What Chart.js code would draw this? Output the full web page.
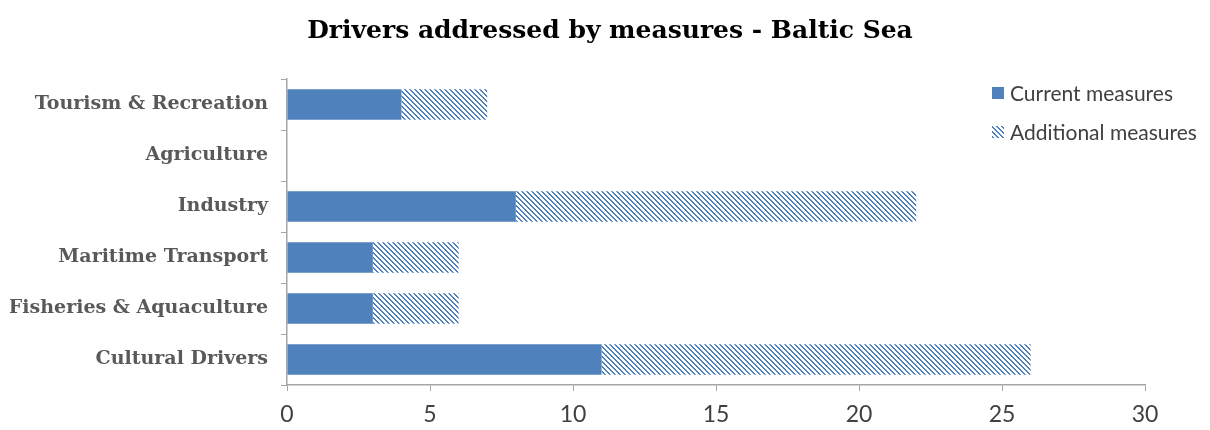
<!DOCTYPE html>
<html>
<head>
<meta charset="utf-8">
<script src="https://cdn.jsdelivr.net/npm/chart.js@4/dist/chart.umd.min.js"></script>
<style>
  html, body { margin: 0; padding: 0; background: #fff; }
  #wrap { width: 1210px; height: 430px; }
</style>
</head>
<body>
<div id="wrap"><canvas id="chart" width="1210" height="430"></canvas></div>
<script>
const categories = [
  "Tourism & Recreation",
  "Agriculture",
  "Industry",
  "Maritime Transport",
  "Fisheries & Aquaculture",
  "Cultural Drivers",
];
const currentMeasures = [4, 0, 8, 3, 3, 11];
const additionalMeasures = [3, 0, 14, 3, 3, 15];
const seriesNames = ["Current measures", "Additional measures"];
const xMax = 30;
const xStep = 5;

const blue = "#4F81BD";

// downward diagonal hatch, like the excel pattern fill
function makeHatch() {
  const n = 5;
  const c = document.createElement("canvas");
  c.width = n;
  c.height = n;
  const cx = c.getContext("2d");
  const img = cx.createImageData(n, n);
  for (let y = 0; y < n; y++) {
    for (let x = 0; x < n; x++) {
      const i = (y * n + x) * 4;
      const on = ((x - y + 2 * n) % n) < 2;
      img.data[i] = on ? 0x4f : 255;
      img.data[i + 1] = on ? 0x81 : 255;
      img.data[i + 2] = on ? 0xbd : 255;
      img.data[i + 3] = 255;
    }
  }
  cx.putImageData(img, 0, 0);
  return cx.createPattern(c, "repeat");
}
const hatch = makeHatch();

const legendBox = {
  id: "legendBox",
  afterDraw(chart) {
    const ctx = chart.ctx;
    const items = [
      { text: seriesNames[0], fill: blue, y: 93 },
      { text: seriesNames[1], fill: hatch, y: 132 },
    ];
    ctx.save();
    ctx.font = "21px Lato";
    ctx.textBaseline = "middle";
    items.forEach((it) => {
      ctx.fillStyle = it.fill;
      ctx.fillRect(992, it.y - 6, 12, 12);
      ctx.fillStyle = "#404040";
      ctx.fillText(it.text, 1010, it.y + 1);
    });
    ctx.restore();
  },
};

new Chart(document.getElementById("chart"), {
  type: "bar",
  data: {
    labels: categories,
    datasets: [
      {
        label: seriesNames[0],
        data: currentMeasures,
        backgroundColor: blue,
        borderWidth: 0,
        categoryPercentage: 1,
        barPercentage: 0.6,
      },
      {
        label: seriesNames[1],
        data: additionalMeasures,
        backgroundColor: hatch,
        borderWidth: 0,
        categoryPercentage: 1,
        barPercentage: 0.6,
      },
    ],
  },
  options: {
    indexAxis: "y",
    responsive: false,
    animation: false,
    layout: { padding: { left: 10, right: 0, top: 0, bottom: 0 } },
    plugins: {
      legend: { display: false },
      tooltip: { enabled: false },
      title: {
        display: true,
        text: "Drivers addressed by measures - Baltic Sea",
        color: "#000",
        font: { family: "DejaVu Serif", size: 25, weight: "bold" },
        padding: { top: 16, bottom: 33 },
      },
    },
    scales: {
      x: {
        stacked: true,
        min: 0,
        max: xMax,
        ticks: {
          stepSize: xStep,
          color: "#404040",
          font: { family: "Lato", size: 23 },
          padding: 10,
        },
        grid: { drawOnChartArea: false, color: "#A6A6A6", tickLength: 6 },
        border: { color: "#A6A6A6", width: 1.5 },
        afterFit(scale) { scale.height = 45; },
      },
      y: {
        stacked: true,
        ticks: {
          color: "#595959",
          font: { family: "DejaVu Serif", size: 19, weight: "bold" },
          padding: 13,
        },
        grid: { drawOnChartArea: false, color: "#A6A6A6", tickLength: 6, offset: true },
        border: { color: "#A6A6A6", width: 1.5 },
        afterFit(scale) { scale.width = 277; },
      },
      // empty right-hand axis, only keeps room for the legend side
      yRight: {
        type: "category",
        position: "right",
        labels: categories,
        ticks: { display: false },
        grid: { display: false },
        border: { display: false },
        afterFit(scale) { scale.width = 65; },
      },
    },
  },
  plugins: [legendBox],
});
</script>
</body>
</html>
